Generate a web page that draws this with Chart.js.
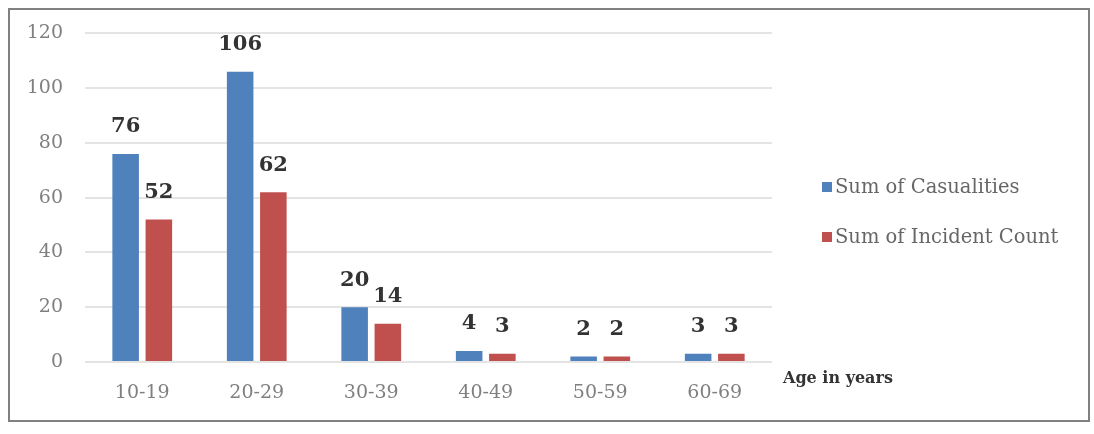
<!DOCTYPE html>
<html>
<head>
<meta charset="utf-8">
<script src="https://cdn.jsdelivr.net/npm/chart.js@4"></script>
<style>
  html, body { margin: 0; padding: 0; background: #fff; }
  #wrap { position: absolute; left: 0; top: 0; width: 1094px; height: 434px; }
</style>
</head>
<body>
<div id="wrap"><canvas id="chart" width="1094" height="434"></canvas></div>
<script>
// ================= DATA =================
const ageGroups = ["10-19", "20-29", "30-39", "40-49", "50-59", "60-69"];
const casualties = [76, 106, 20, 4, 2, 3];
const incidents = [52, 62, 14, 3, 2, 3];
const seriesNames = ["Sum of Casualities", "Sum of Incident Count"];
const axisTitle = "Age in years";

const blue = "#4F81BD";
const red = "#C0504D";
const font = "'DejaVu Serif', 'Liberation Serif', serif";

// ================= EXTRAS (border, labels, legend) =================
const extras = {
  id: "extras",
  afterDatasetsDraw(chart) {
    const c = chart.ctx;
    c.save();

    // value labels above bars
    c.fillStyle = "#333";
    c.font = "bold 21px " + font;
    c.textAlign = "center";
    c.textBaseline = "middle";
    chart.data.datasets.forEach((ds, i) => {
      chart.getDatasetMeta(i).data.forEach((bar, j) => {
        c.fillText(String(ds.data[j]), bar.x, bar.y - 27);
      });
    });

    // legend
    c.font = "19.5px " + font;
    c.textAlign = "left";
    chart.data.datasets.forEach((ds, i) => {
      const y = 187 + i * 50;
      c.fillStyle = ds.backgroundColor;
      c.fillRect(822, y - 5, 10, 10);
      c.fillStyle = "#666";
      c.fillText(ds.label, 835, y + 1);
    });

    // axis title
    c.font = "bold 16px " + font;
    c.fillStyle = "#333";
    c.fillText(axisTitle, 783, 379);

    // outer border
    c.strokeStyle = "#808080";
    c.lineWidth = 2;
    c.strokeRect(9, 9, 1080, 412);
    c.restore();
  }
};

// ================= CHART =================
new Chart(document.getElementById("chart"), {
  type: "bar",
  data: {
    labels: ageGroups,
    datasets: [
      { label: seriesNames[0], data: casualties, backgroundColor: blue },
      { label: seriesNames[1], data: incidents, backgroundColor: red }
    ]
  },
  options: {
    responsive: false,
    animation: false,
    layout: { padding: { left: 0, right: 322, top: 32, bottom: 0 } },
    datasets: { bar: { barPercentage: 0.8, categoryPercentage: 0.58 } },
    plugins: { legend: { display: false }, tooltip: { enabled: false } },
    scales: {
      x: {
        grid: { display: false, drawTicks: false },
        border: { display: false },
        ticks: { color: "#7f7f7f", font: { family: font, size: 19 }, padding: 20 },
        afterFit: s => { s.height = 72; }
      },
      y: {
        min: 0,
        max: 120,
        ticks: { stepSize: 20, color: "#7f7f7f", font: { family: font, size: 19 }, padding: 22 },
        grid: { color: "#e4e4e4", lineWidth: 2, drawTicks: false },
        border: { display: false },
        afterFit: s => { s.width = 85; }
      }
    }
  },
  plugins: [extras]
});
</script>
</body>
</html>
